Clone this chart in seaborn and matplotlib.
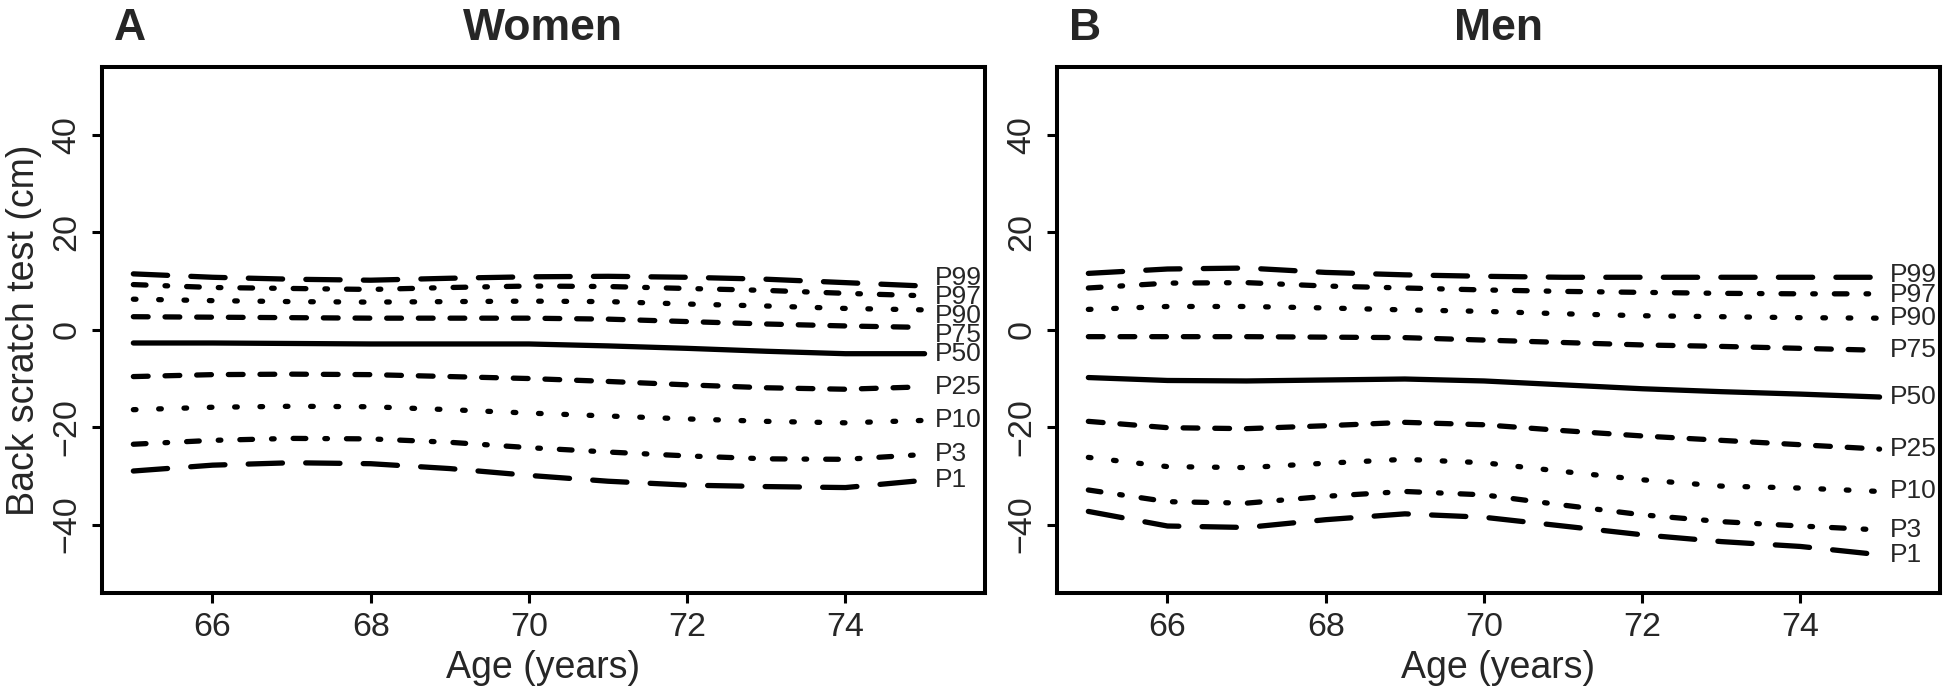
import pandas as pd
import matplotlib
matplotlib.use("Agg")
import matplotlib.pyplot as plt
import seaborn as sns

# age grid (years)
ages = [65, 66, 67, 68, 69, 70, 71, 72, 73, 74, 75]
percentiles = ["P99", "P97", "P90", "P75", "P50", "P25", "P10", "P3", "P1"]

# Women, back scratch test (cm)
women_p99 = [11.5, 10.8, 10.4, 10.2, 10.6, 10.9, 11.0, 10.8, 10.4, 9.7, 9.0]
women_p97 = [9.3, 8.7, 8.5, 8.3, 8.7, 9.0, 8.9, 8.5, 8.1, 7.5, 7.0]
women_p90 = [6.3, 6.0, 5.8, 5.7, 5.8, 5.9, 5.8, 5.3, 4.9, 4.4, 4.1]
women_p75 = [2.7, 2.6, 2.5, 2.4, 2.4, 2.4, 2.2, 1.7, 1.2, 0.8, 0.5]
women_p50 = [-2.7, -2.7, -2.8, -2.9, -2.9, -2.9, -3.3, -3.8, -4.4, -4.9, -4.9]
women_p25 = [-9.6, -9.2, -9.1, -9.2, -9.6, -10.0, -10.6, -11.3, -11.9, -12.2, -11.7]
women_p10 = [-16.4, -15.9, -15.7, -15.8, -16.4, -17.1, -17.7, -18.3, -18.8, -19.1, -18.6]
women_p3 = [-23.5, -22.7, -22.3, -22.4, -23.1, -24.2, -25.1, -25.9, -26.5, -26.6, -25.6]
women_p1 = [-29.0, -27.8, -27.3, -27.5, -28.5, -29.9, -31.1, -31.9, -32.2, -32.4, -30.9]

# Men, back scratch test (cm)
men_p99 = [11.6, 12.5, 12.7, 11.8, 11.3, 11.0, 10.8, 10.8, 10.8, 10.8, 10.8]
men_p97 = [8.6, 9.6, 9.7, 9.0, 8.6, 8.2, 7.9, 7.7, 7.5, 7.4, 7.4]
men_p90 = [4.2, 4.8, 4.8, 4.5, 4.1, 3.8, 3.3, 2.9, 2.7, 2.5, 2.4]
men_p75 = [-1.4, -1.4, -1.4, -1.5, -1.6, -2.1, -2.6, -3.1, -3.4, -3.8, -4.2]
men_p50 = [-9.8, -10.4, -10.5, -10.3, -10.1, -10.5, -11.3, -12.1, -12.7, -13.2, -13.8]
men_p25 = [-18.8, -20.1, -20.3, -19.7, -19.0, -19.5, -20.7, -21.8, -22.7, -23.6, -24.5]
men_p10 = [-26.2, -28.1, -28.3, -27.4, -26.6, -27.3, -29.1, -30.8, -32.1, -32.5, -33.2]
men_p3 = [-32.9, -35.3, -35.6, -34.2, -33.2, -33.9, -36.0, -38.0, -39.4, -40.3, -41.1]
men_p1 = [-37.3, -40.3, -40.6, -39.0, -37.8, -38.5, -40.3, -42.1, -43.5, -44.5, -46.2]

women = [women_p99, women_p97, women_p90, women_p75, women_p50,
         women_p25, women_p10, women_p3, women_p1]
men = [men_p99, men_p97, men_p90, men_p75, men_p50,
       men_p25, men_p10, men_p3, men_p1]

# small vertical nudges for the crowded end labels (cm)
women_nudge = [1.6, -0.2, -1.2, -1.6, 0, 0, 0, 0, 0]
men_nudge = [0.4, -0.3, 0, 0, 0, 0, 0, 0, 0]

# line types, R style (in line-width units)
longdash = (6.5, 4.4)
dotdash = (2.4, 3.6, 0.5, 3.6)
dotted = (0.5, 4.3)
dashed = (2.8, 3.2)
styles = {"P99": longdash, "P97": dotdash, "P90": dotted, "P75": dashed,
          "P50": "", "P25": dashed, "P10": dotted, "P3": dotdash, "P1": longdash}

sns.set_theme(style="white")
plt.rcParams["font.family"] = ["Liberation Sans", "DejaVu Sans"]
plt.rcParams["lines.dash_capstyle"] = "round"
plt.rcParams["lines.solid_capstyle"] = "round"

W, H = 1946, 694
fig = plt.figure(figsize=(W / 100, H / 100), dpi=100)

panels = [("A", "Women", women, women_nudge, 101.7),
          ("B", "Men", men, men_nudge, 1056.7)]
for letter, title, series, nudge, left_px in panels:
    ax = fig.add_axes([left_px / W, (H - 592.7) / H, 883 / W, (592.7 - 67) / H])

    df = pd.DataFrame({
        "age": ages * len(percentiles),
        "value": [v for s in series for v in s],
        "pct": [p for p in percentiles for _ in ages],
    })
    sns.lineplot(data=df, x="age", y="value", style="pct", dashes=styles,
                 color="black", lw=3.8, legend=False, estimator=None,
                 sort=False, ax=ax)

    for p, s, dy in zip(percentiles, series, nudge):
        ax.text(75.13, s[-1] + dy, p, ha="left", va="center", fontsize=19,
                family=["Liberation Sans Narrow", "Liberation Sans"])

    ax.set_xlim(64.6, 75.76)
    ax.set_ylim(-54, 54)
    ax.set_xticks([66, 68, 70, 72, 74])
    ax.set_yticks([-40, -20, 0, 20, 40])
    ax.tick_params(axis="both", which="major", bottom=True, left=True,
                   length=7.2, width=2.2, color="black", labelsize=24.5,
                   pad=6.5)
    for lab in ax.get_yticklabels():
        lab.set_rotation(90)
        lab.set_va("center")
    for sp in ax.spines.values():
        sp.set_linewidth(2.9)
        sp.set_color("black")

    ax.set_xlabel("Age (years)", fontsize=27, labelpad=5)
    if letter == "A":
        ax.set_ylabel("Back scratch test (cm)", fontsize=27, labelpad=7)
    else:
        ax.set_ylabel("")

    fig.text((left_px + 12) / W, 1 - 40 / H, letter, fontsize=32,
             fontweight="bold", ha="left", va="baseline")
    fig.text((left_px + 441.5) / W, 1 - 40 / H, title, fontsize=32,
             fontweight="bold", ha="center", va="baseline")

fig.savefig("out.png", dpi=100)
